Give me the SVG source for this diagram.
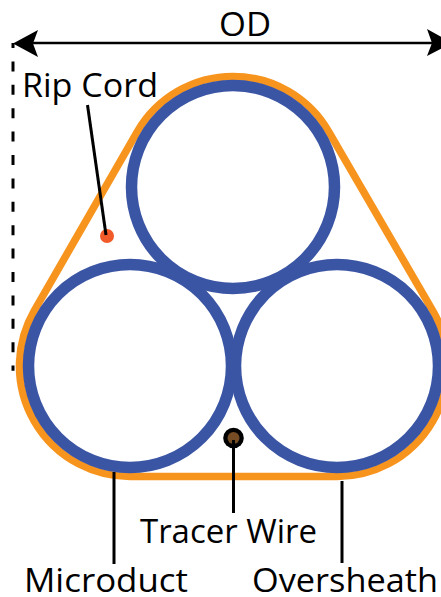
<svg xmlns="http://www.w3.org/2000/svg" width="441" height="597" viewBox="0 0 441 597">
<style>
.label{font-family:"Open Sans","Noto Sans",sans-serif;font-size:33px;fill:#000}
.duct{fill:none;stroke:#3b55a5;stroke-width:11.5}
.leader{fill:none;stroke:#000;stroke-width:3}
</style>
<rect width="441" height="597" fill="#fff"/>
<g id="oversheath"><path d="M137.2 131.9A110.5 110.5 0 0 1 328.8 131.9L432.8 310.9A110.5 110.5 0 0 1 337 476.5L130 476.5A110.5 110.5 0 0 1 34.2 310.9Z" fill="none" stroke="#f7941e" stroke-width="7.5"/></g>
<g id="microduct-top"><circle class="duct" cx="233" cy="187" r="101.5"/></g>
<g id="microduct-left"><circle class="duct" cx="130" cy="366" r="101.5"/></g>
<g id="microduct-right"><circle class="duct" cx="337" cy="366" r="101.5"/></g>
<g id="rip-cord"><circle cx="107" cy="236" r="7" fill="#f15a29"/></g>
<g id="tracer-wire"><circle cx="233.5" cy="438" r="10.3" fill="#000"/><circle cx="233.5" cy="438" r="6" fill="#754c24"/></g>
<g id="connectors">
<path d="M13 43V370.7" fill="none" stroke="#000" stroke-width="3" stroke-dasharray="10 13.4" stroke-dashoffset="5"/>
<path d="M25 43H441" fill="none" stroke="#000" stroke-width="2.5"/>
<path d="M13 43.5L38 30L33 43.5L38 57Z" fill="#000"/>
<path d="M452 43L427 29L432 43L427 56Z" fill="#000"/>
<path class="leader" d="M87.5 105L106 235"/>
<path class="leader" d="M233.5 440V513"/>
<path class="leader" d="M114 472V564"/>
<path class="leader" d="M342 481V563"/>
</g>
<g id="labels">
<text class="label" x="219" y="36" textLength="52" lengthAdjust="spacingAndGlyphs">OD</text>
<text class="label" x="22" y="97" textLength="136" lengthAdjust="spacingAndGlyphs">Rip Cord</text>
<text class="label" x="140" y="543" textLength="177" lengthAdjust="spacingAndGlyphs">Tracer Wire</text>
<text class="label" x="24" y="592" textLength="164" lengthAdjust="spacingAndGlyphs">Microduct</text>
<text class="label" x="252" y="592" textLength="186" lengthAdjust="spacingAndGlyphs">Oversheath</text>
</g>
</svg>
